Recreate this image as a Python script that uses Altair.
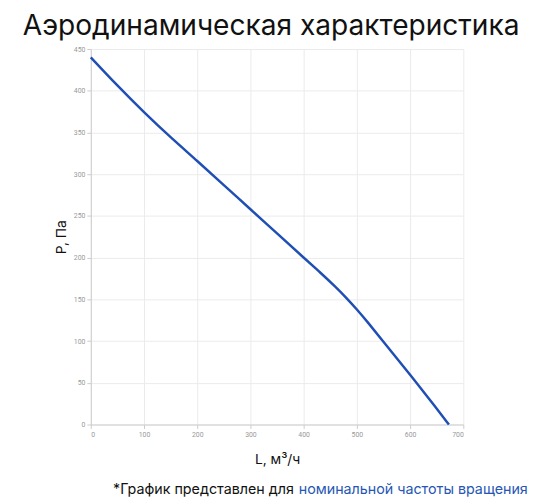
import altair as alt
import pandas as pd

flow = [0, 50, 100, 150, 200, 250, 300, 350, 400, 430, 460, 480, 500, 520, 550, 600, 650, 673]
pressure = [440, 406, 374, 344, 316, 287, 258, 229, 200, 183, 165, 152, 138, 123, 99, 60, 19, 0]

title_text = "Аэродинамическая характеристика"
note_black = "*График представлен для"
note_blue = "номинальной частоты вращения"

df = pd.DataFrame({"L": flow, "P": pressure})

W, H = 378, 381

line = alt.Chart(df).mark_line(color="#1f4fb4", strokeWidth=2.5, interpolate="basis").encode(
    x=alt.X("L:Q", scale=alt.Scale(domain=[0, 700], nice=False),
            axis=alt.Axis(values=list(range(0, 701, 100)), title="L, м³/ч", titlePadding=16)),
    y=alt.Y("P:Q", scale=alt.Scale(domain=[0, 450], nice=False),
            axis=alt.Axis(values=list(range(0, 451, 50)), title="P, Па", titlePadding=5)),
)

title = alt.Chart(pd.DataFrame({"t": [title_text]})).mark_text(
    font="Inter", fontSize=28.5, color="#111111", align="center", baseline="alphabetic"
).encode(text="t:N", x=alt.value(183), y=alt.value(-14))

note1 = alt.Chart(pd.DataFrame({"t": [note_black]})).mark_text(
    font="Inter", fontSize=14.5, color="#111111", align="right", baseline="middle"
).encode(text="t:N", x=alt.value(206), y=alt.value(67 + H))

note2 = alt.Chart(pd.DataFrame({"t": [note_blue]})).mark_text(
    font="Inter", fontSize=14.5, color="#2656b4", align="left", baseline="middle"
).encode(text="t:N", x=alt.value(211), y=alt.value(67 + H))

chart = alt.layer(line, title, note1, note2).properties(
    width=W, height=H,
    autosize=alt.AutoSizeParams(type="none"),
    padding={"left": 84, "top": 38, "right": 90, "bottom": 77},
).configure_view(stroke=None).configure_axis(
    gridColor="#ebebeb", gridWidth=1,
    domainColor="#cccccc", tickColor="#cccccc", tickSize=4,
    labelFont="Roboto", labelFontSize=7, labelColor="#999999",
    titleFont="Inter", titleFontSize=14, titleFontWeight="normal", titleColor="#111111",
)

chart.save("out.html", embed_options={"renderer": "svg", "actions": False})
